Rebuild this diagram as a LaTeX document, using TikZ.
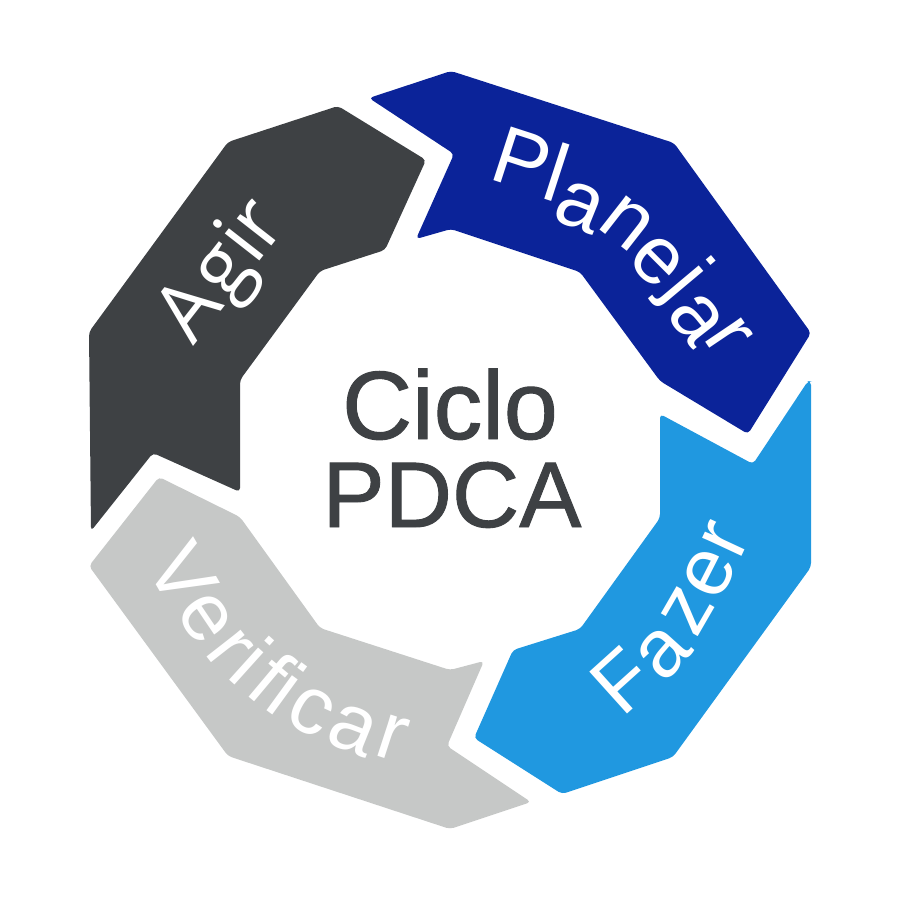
\documentclass[tikz,border=0pt]{standalone}
\usepackage{fontspec}
\usepackage{xcolor}
\usetikzlibrary{positioning}
\setmainfont{Liberation Sans}
\newfontfamily\agirfont{Open Sans}
\newfontfamily\ciclofont[FakeBold=1]{Liberation Sans}
\definecolor{planblue}{HTML}{0B2399}
\definecolor{fazblue}{HTML}{2098E0}
\definecolor{agirgray}{HTML}{3E4144}
\definecolor{verigray}{HTML}{C6C8C7}
\tikzset{
    piece/.style={rounded corners=0.04cm},
    letter/.style={anchor=base,inner sep=0pt,text=white,font=\fontsize{23.3pt}{23.3pt}\selectfont},
    titletext/.style={anchor=base,inner sep=0pt,text=agirgray,font=\ciclofont\fontsize{#1}{#1}\selectfont}
}

\begin{document}
\begin{tikzpicture}[x=0.01cm,y=-0.01cm]
    \useasboundingbox (0,0) rectangle (900,900);

    \fill [piece,planblue] (369,98) -- (451,71) -- (674,143) -- (811,333) -- (748,434)
        -- (660,381) -- (580,272) -- (451,229) -- (416,239) -- (454,154) -- cycle;
    \fill [piece,fazblue] (808,381) -- (811,381) -- (811,567) -- (673,757) -- (562,794)
        -- (474,738) -- (513,650) -- (580,629) -- (660,518) -- (660,414) -- (753,464) -- cycle;
    \fill [piece,verigray] (159,477) -- (240,517) -- (320,628) -- (450,670) -- (484,661)
        -- (447,746) -- (531,802) -- (450,829) -- (228,756) -- (89,566) -- cycle;
    \fill [piece,agirgray] (338,106) -- (426,160) -- (385,250) -- (320,271) -- (240,380)
        -- (240,492) -- (153,453) -- (91,531) -- (89,332) -- (228,142) -- cycle;

    % Planejar
    \foreach \ch/\px/\py/\rot [count=\i] in {P/513/187/-18,l/548/200/-18,a/572/227/-22,n/613/241/-38,
            e/642/277/-45,j/668/296/-50,a/680/332/-52,r/710/349/-56}
        \node [letter,rotate=\rot] (plan\i) at (\px,\py) {\ch};
    % Fazer
    \foreach \ch/\px/\py/\rot [count=\i] in {F/641/702/42,a/680/668/48,z/707/622/60,e/729/583/63,r/745/549/65}
        \node [letter,rotate=\rot] (faz\i) at (\px,\py) {\ch};
    % Verificar
    \foreach \ch/\px/\py/\rot [count=\i] in {V/158/588/-60,e/187/630/-56,r/212/663/-52,i/232/683/-42,f/252/700/-40,
            i/270/713/-36,c/300/730/-29,a/345/750/-22,r/385/759/-18}
        \node [letter,rotate=\rot] (veri\i) at (\px,\py) {\ch};
    % Agir
    \foreach \ch/\px/\py [count=\i] in {A/209/326,g/241/285,i/262/258,r/278/238}
        \node [letter,rotate=52] (agir\i) at (\px,\py) {\agirfont\ch};

    \node [titletext=27.6pt] (ciclo) at (450,439) {Ciclo};
    \node [titletext=26.5pt] (pdca) at (452,527) {PDCA};
\end{tikzpicture}
\end{document}
